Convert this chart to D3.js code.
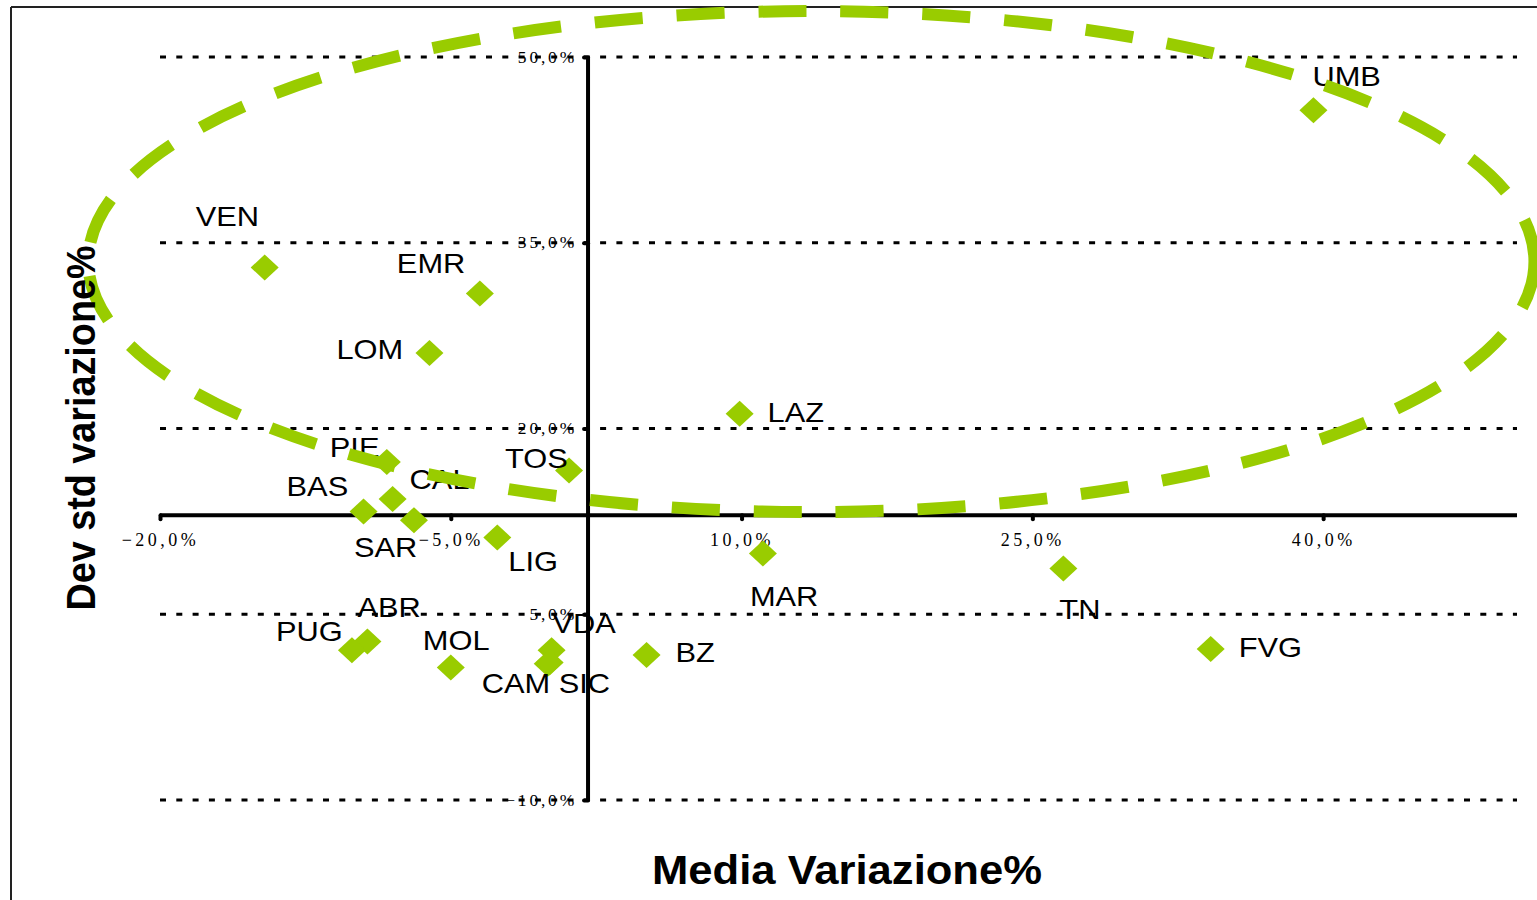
<!DOCTYPE html>
<html>
<head>
<meta charset="utf-8">
<script src="https://cdn.jsdelivr.net/npm/d3@7/dist/d3.min.js"></script>
<style>
  html, body { margin: 0; padding: 0; background: #fff; }
  svg { display: block; }
</style>
</head>
<body>
<svg id="chart" width="1537" height="900"></svg>
<script>
// ---------------- DATA ----------------
const regions = ["UMB","VEN","EMR","LOM","LAZ","PIE","TOS","CAL","BAS","SAR","LIG","MAR","TN","ABR","PUG","VDA","CAM","SIC","MOL","BZ","FVG"];
const mediaVariazione = [39.5,-14.6,-3.5,-6.1,9.9,-8.3,1.1,-8.0,-9.5,-6.9,-2.6,11.1,26.6,-9.3,-10.1,0.2,0.0,0.1,-5.0,5.1,34.2];
const devStdVariazione = [45.7,33.0,30.9,26.1,21.2,17.3,16.6,14.3,13.3,12.6,11.2,9.9,8.7,2.8,2.1,2.1,1.0,1.1,0.7,1.7,2.2];

const xTickValues = [-20,-5,10,25,40];
const yTickValues = [50,35,20,5,-10];
const xTitle = "Media Variazione%";
const yTitle = "Dev std variazione%";

// highlighted cluster (ellipse) in data units
const ellipseCenter = [13.6, 33.48];
const ellipseRadii = [37.3, 20.23];

// axis crossing points (data units)
const xAxisCrossY = 13.0;
const yAxisCrossX = 2.08;

// ---------------- LAYOUT / STYLE ----------------
const labelOffsets = {
  UMB:[-1,-24], VEN:[-69,-42], EMR:[-83,-21], LOM:[-93,6], LAZ:[28,8], PIE:[-57,-5],
  TOS:[-64,-3], CAL:[17,-10], BAS:[-77,-15], SAR:[-60,37], LIG:[11,34], MAR:[-13,52],
  TN:[-4,51], ABR:[-10,-24], PUG:[-76,-9], VDA:[1,-17], CAM:[-66,29], SIC:[9,30],
  MOL:[-28,-17], BZ:[29,7], FVG:[28,8]
};
const green = "#99CC00";
const fmt = v => d3.format(".1f")(v).replace(".", ",") + "%";

const svg = d3.select("#chart");
const x = d3.scaleLinear().domain([-20, 50]).range([160, 1517]);
const y = d3.scaleLinear().domain([-10, 50]).range([800, 57]);

// chart border (left and top visible)
svg.append("line").attr("x1", 11).attr("y1", 7).attr("x2", 11).attr("y2", 900)
  .attr("stroke", "#222").attr("stroke-width", 2);
svg.append("line").attr("x1", 11).attr("y1", 7).attr("x2", 1537).attr("y2", 7)
  .attr("stroke", "#222").attr("stroke-width", 2);

// gridlines
svg.append("g").selectAll("line").data(yTickValues).join("line")
  .attr("x1", x(-20)).attr("x2", x(50))
  .attr("y1", d => y(d)).attr("y2", d => y(d))
  .attr("stroke", "#000").attr("stroke-width", 3)
  .attr("stroke-dasharray", "6 10.3");

// x axis (horizontal), crossing at y = xAxisCrossY
const xAxis = d3.axisBottom(x).tickValues(xTickValues).tickFormat(fmt).tickSize(4).tickSizeOuter(0);
const gx = svg.append("g").attr("transform", `translate(0,${y(xAxisCrossY)})`).call(xAxis);
gx.select(".domain").attr("stroke", "#000").attr("stroke-width", 4)
  .attr("d", `M${x(-20)},0H${x(50)}`);
gx.selectAll(".tick line").attr("stroke", "#000").attr("stroke-width", 4).attr("stroke-linecap", "round");
gx.selectAll(".tick text")
  .attr("y", 31).attr("dy", 0)
  .attr("font-family", "'Liberation Serif', 'Times New Roman', serif")
  .attr("font-size", 18).attr("letter-spacing", "3.5px")
  .attr("fill", "#000");

// y axis (vertical), crossing at x = yAxisCrossX
const yAxis = d3.axisLeft(y).tickValues(yTickValues).tickFormat(fmt).tickSize(4).tickSizeOuter(0);
const gy = svg.append("g").attr("transform", `translate(${x(yAxisCrossX)},0)`).call(yAxis);
gy.select(".domain").attr("stroke", "#000").attr("stroke-width", 4)
  .attr("d", `M0,${y(50)}V${y(-10)}`);
gy.selectAll(".tick line").attr("stroke", "#000").attr("stroke-width", 4).attr("stroke-linecap", "round");
gy.selectAll(".tick text")
  .attr("x", -11).attr("dy", 5)
  .attr("font-family", "'Liberation Serif', 'Times New Roman', serif")
  .attr("font-size", 17.5).attr("letter-spacing", "2.8px")
  .attr("fill", "#000");

// points (diamonds)
const pts = regions.map((r, i) => ({ name: r, mx: mediaVariazione[i], sd: devStdVariazione[i] }));
const diamond = "M0,-13L14,0L0,13L-14,0Z";
svg.append("g").selectAll("path").data(pts).join("path")
  .attr("d", diamond)
  .attr("transform", d => `translate(${x(d.mx)},${y(d.sd)})`)
  .attr("fill", green);

// labels
const lbl = svg.append("g").selectAll("text").data(pts).join("text")
  .attr("x", d => x(d.mx) + labelOffsets[d.name][0])
  .attr("y", d => y(d.sd) + labelOffsets[d.name][1])
  .attr("font-family", "'Liberation Sans', Arial, sans-serif")
  .attr("font-size", 27.5)
  .attr("fill", "#000")
  .text(d => d.name);
lbl.each(function() {
  const w = this.getComputedTextLength();
  d3.select(this).attr("textLength", w * 1.12).attr("lengthAdjust", "spacingAndGlyphs");
});

// ellipse highlight
svg.append("ellipse")
  .attr("cx", x(ellipseCenter[0])).attr("cy", y(ellipseCenter[1]))
  .attr("rx", x(ellipseCenter[0] + ellipseRadii[0]) - x(ellipseCenter[0]))
  .attr("ry", y(ellipseCenter[1] - ellipseRadii[1]) - y(ellipseCenter[1]))
  .attr("fill", "none").attr("stroke", green).attr("stroke-width", 12)
  .attr("stroke-dasharray", "48 34");

// axis titles
svg.append("text")
  .attr("x", 847).attr("y", 884)
  .attr("text-anchor", "middle")
  .attr("font-family", "'Liberation Sans', Arial, sans-serif")
  .attr("font-weight", "bold").attr("font-size", 40)
  .attr("textLength", 390).attr("lengthAdjust", "spacingAndGlyphs")
  .text(xTitle);

svg.append("text")
  .attr("transform", "translate(95,428) rotate(-90)")
  .attr("text-anchor", "middle")
  .attr("font-family", "'Liberation Sans', Arial, sans-serif")
  .attr("font-weight", "bold").attr("font-size", 40)
  .attr("textLength", 365).attr("lengthAdjust", "spacingAndGlyphs")
  .text(yTitle);
</script>
</body>
</html>
